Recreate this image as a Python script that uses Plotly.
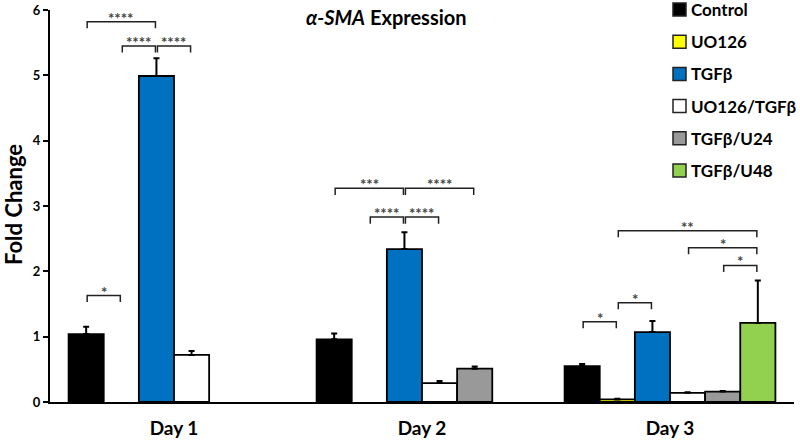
import plotly.graph_objects as go

categories = ["Day 1", "Day 2", "Day 3"]
series_names = ["Control", "UO126", "TGFβ", "UO126/TGFβ", "TGFβ/U24", "TGFβ/U48"]
series_colors = ["#000000", "#FFFF00", "#0070C0", "#FFFFFF", "#999999", "#92D050"]

control = [1.04, 0.96, 0.55]
control_err = [0.11, 0.09, 0.03]
uo126 = [None, None, 0.04]
uo126_err = [0, 0, 0.01]
tgfb = [4.99, 2.34, 1.07]
tgfb_err = [0.27, 0.26, 0.17]
uo126_tgfb = [0.72, 0.29, 0.14]
uo126_tgfb_err = [0.06, 0.03, 0.01]
tgfb_u24 = [None, 0.51, 0.16]
tgfb_u24_err = [0, 0.035, 0.01]
tgfb_u48 = [None, None, 1.21]
tgfb_u48_err = [0, 0, 0.65]

values = [control, uo126, tgfb, uo126_tgfb, tgfb_u24, tgfb_u48]
errors = [control_err, uo126_err, tgfb_err, uo126_tgfb_err, tgfb_u24_err, tgfb_u48_err]

# significance brackets: (day index, bar a, bar b, bracket height, label)
sig_day = [0, 0, 0, 0, 1, 1, 1, 1, 2, 2, 2, 2, 2]
sig_a = [0, 1, 2, 0, 0, 2, 1, 2, 0, 1, 1, 3, 4]
sig_b = [2, 2, 3, 1, 2, 4, 2, 3, 1, 2, 5, 5, 5]
sig_y = [5.82, 5.45, 5.45, 1.63, 3.27, 3.27, 2.83, 2.83, 1.23, 1.52, 2.62, 2.36, 2.09]
sig_label = ["****", "****", "****", "*", "***", "****", "****", "****", "*", "*", "**", "*", "*"]

FONT = "Lato"
BARGAP = 0.15
n = len(series_names)

fig = go.Figure()
for name, col, v, e in zip(series_names, series_colors, values, errors):
    fig.add_trace(go.Bar(
        x=categories, y=v, name=name,
        marker=dict(color=col, line=dict(color="#000000", width=1.8)),
        error_y=dict(type="data", array=e, arrayminus=[0] * len(e), symmetric=False,
                     color="#000000", thickness=2, width=3),
        showlegend=False,
    ))

w = (1 - BARGAP) / n


def bar_center(day, i):
    return day + (i - (n - 1) / 2) * w


shapes = []
annotations = []
tick_h = 0.1
for d, a, b, y, lab in zip(sig_day, sig_a, sig_b, sig_y, sig_label):
    x0 = bar_center(d, a) + 0.004
    x1 = bar_center(d, b) - 0.004
    shapes.append(dict(type="path", xref="x", yref="y",
                       path=f"M {x0},{y - tick_h} L {x0},{y} L {x1},{y} L {x1},{y - tick_h}",
                       line=dict(color="#222222", width=1.5)))
    annotations.append(dict(x=(x0 + x1) / 2, y=y, xref="x", yref="y", text=lab,
                            showarrow=False, yanchor="middle", yshift=4,
                            font=dict(family=FONT, size=15, color="#444444", weight="bold")))

# manual legend (pixel layout converted to paper coordinates)
L, R, T, B = 50, 6, 10, 39
W, H = 800, 441
pw, ph = W - L - R, H - T - B


def px2paper_x(px):
    return (px - L) / pw


def px2paper_y(py):
    return (H - B - py) / ph


row0, row_step = 9.5, 32.2
for k, (name, col) in enumerate(zip(series_names, series_colors)):
    cy = row0 + k * row_step
    shapes.append(dict(type="rect", xref="paper", yref="paper",
                       x0=px2paper_x(673), x1=px2paper_x(686),
                       y0=px2paper_y(cy + 6.5), y1=px2paper_y(cy - 6.5),
                       fillcolor=col, line=dict(color="#222222", width=1.5)))
    annotations.append(dict(x=px2paper_x(689), y=px2paper_y(cy), xref="paper", yref="paper",
                            text=name, showarrow=False, xanchor="left", yanchor="middle",
                            font=dict(family=FONT, size=17, color="#000000", weight="bold")))

# title
annotations.append(dict(x=px2paper_x(386), y=px2paper_y(17), xref="paper", yref="paper",
                        text="<b><i>α-SMA</i> Expression</b>", showarrow=False,
                        xanchor="center", yanchor="middle",
                        font=dict(family=FONT, size=20, color="#000000")))
# y axis title
annotations.append(dict(x=px2paper_x(13), y=px2paper_y(205), xref="paper", yref="paper",
                        text="<b>Fold Change</b>", showarrow=False, textangle=-90,
                        xanchor="center", yanchor="middle",
                        font=dict(family=FONT, size=22, color="#000000")))

fig.update_layout(
    width=W, height=H,
    margin=dict(l=L, r=R, t=T, b=B),
    barmode="group", bargap=BARGAP, bargroupgap=0,
    plot_bgcolor="white", paper_bgcolor="white",
    shapes=shapes, annotations=annotations,
    xaxis=dict(type="category", range=[-0.5, 2.5], showline=True, linecolor="#000000",
               linewidth=2, ticks="", showgrid=False, zeroline=False, automargin=False,
               ticklabelstandoff=8,
               tickfont=dict(family=FONT, size=19, color="#000000", weight="bold")),
    yaxis=dict(range=[0, 6], dtick=1, showline=True, linecolor="#000000", linewidth=2,
               ticks="outside", ticklen=5, tickwidth=2, tickcolor="#000000",
               showgrid=False, zeroline=False, automargin=False,
               tickfont=dict(family=FONT, size=13, color="#000000", weight="bold")),
)

fig.write_html(
    "out.html",
    config={"displayModeBar": False},
    post_script="document.body.style.margin='0';document.body.style.padding='0';"
                "document.body.style.overflow='hidden';",
)
